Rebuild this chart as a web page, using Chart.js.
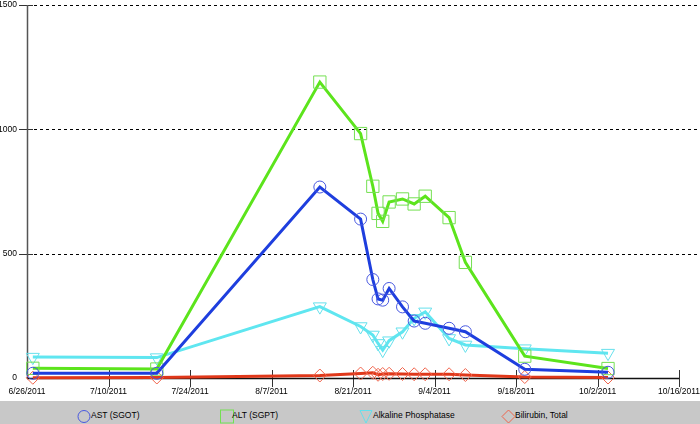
<!DOCTYPE html>
<html><head><meta charset="utf-8">
<script src="https://cdn.jsdelivr.net/npm/chart.js@4"></script>
<style>
html,body{margin:0;padding:0;background:#fff;}
#wrap{position:relative;width:700px;height:424px;overflow:hidden;}
#c{position:absolute;left:0;top:0;}
#legend{position:absolute;left:0;top:401px;width:700px;height:23px;background:#c8c8c8;font-family:"Liberation Sans",Arial,sans-serif;font-size:8.5px;color:#000;}
#legend svg{position:absolute;left:0;top:0;}
.lt{position:absolute;top:9px;height:11px;line-height:11px;white-space:nowrap;}
</style></head>
<body><div id="wrap"><canvas id="c" width="700" height="401"></canvas>
<div id="legend"><svg width="700" height="23" id="lsvg"></svg></div></div>
<script>
// days after 6/26/2011 of each lab draw
const sampleDays = [1.0, 22.3, 50.3, 57.3, 59.4, 60.3, 61.1, 62.2, 64.5, 66.5, 68.4, 72.5, 75.3, 85.5, 99.8];
const astValues  = [19, 19, 768, 639, 396, 318, 313, 360, 286, 229, 220, 200, 186, 35, 23];
const altValues  = [39, 36, 1190, 983, 771, 662, 630, 708, 720, 700, 731, 645, 465, 88, 38];
const alkValues  = [84, 82, 287, 207, 173, 139, 112, 150, 186, 240, 266, 159, 133, 118, 100];
const biliValues = [1, 2, 10, 18, 21, 13, 16, 17, 16, 15, 15, 15, 12, 4, 2];
const seriesNames = ['AST (SGOT)', 'ALT (SGPT)', 'Alkaline Phosphatase', 'Bilirubin, Total'];
const xTickDays = [0, 14, 28, 42, 56, 70, 84, 98, 112];
const xTickLabels = ['6/26/2011','7/10/2011','7/24/2011','8/7/2011','8/21/2011','9/4/2011','9/18/2011','10/2/2011','10/16/2011'];
const yTickValues = [0, 500, 1000, 1500];
const yTickLabels = ['0', '500', '1000', '1500'];

const FONT = '"Liberation Sans", Arial, sans-serif';
const lineCols = ['#1e3ede', '#5ce41c', '#5fe6f0', '#e0381a'];
const markCols = ['#4858e0', '#74e052', '#66e0ec', '#f0644c'];
const styles = ['circle', 'rect', 'triangle', 'rectRot'];
const radii = [6, 8.7, 7.5, 6.5];
const rots = [0, 0, 180, 0];
const vals = [astValues, altValues, alkValues, biliValues];

const datasets = vals.map((arr, k) => ({
  label: seriesNames[k],
  data: arr.map((v, i) => ({x: sampleDays[i], y: v})),
  borderColor: lineCols[k],
  borderWidth: 3,
  pointStyle: styles[k],
  pointRadius: radii[k],
  pointRotation: rots[k],
  pointBorderColor: markCols[k],
  pointBackgroundColor: 'rgba(0,0,0,0)',
  pointBorderWidth: 1,
  tension: 0,
  fill: false,
  clip: false
}));

const axesPlugin = {
  id: 'axesPlugin',
  beforeDatasetsDraw(chart) {
    const ctx = chart.ctx, xs = chart.scales.x, ys = chart.scales.y;
    const left = xs.getPixelForValue(0), right = xs.getPixelForValue(112);
    const y0 = Math.round(ys.getPixelForValue(0));
    ctx.save();
    // dashed gridlines
    ctx.strokeStyle = '#000'; ctx.lineWidth = 1; ctx.setLineDash([3, 3]);
    yTickValues.forEach(v => {
      if (v === 0) return;
      const y = Math.round(ys.getPixelForValue(v)) + 0.5;
      ctx.beginPath(); ctx.moveTo(left + 7, y); ctx.lineTo(698, y); ctx.stroke();
    });
    ctx.setLineDash([]);
    // y ticks
    ctx.strokeStyle = '#333'; ctx.lineWidth = 1;
    yTickValues.forEach(v => {
      if (v === 0) return;
      const y = Math.round(ys.getPixelForValue(v)) + 0.5;
      ctx.beginPath(); ctx.moveTo(left - 8, y); ctx.lineTo(left + 6, y); ctx.stroke();
    });
    // x ticks
    xTickDays.forEach(d => {
      if (d === 0) return;
      const x = Math.round(xs.getPixelForValue(d)) + 0.5;
      ctx.beginPath(); ctx.moveTo(x, y0 - 8); ctx.lineTo(x, y0 + 9); ctx.stroke();
    });
    // y axis
    ctx.strokeStyle = '#555'; ctx.lineWidth = 1.5;
    ctx.beginPath(); ctx.moveTo(Math.round(left) + 0.5, ys.getPixelForValue(1500)); ctx.lineTo(Math.round(left) + 0.5, y0 + 1); ctx.stroke();
    // x axis
    ctx.strokeStyle = '#111'; ctx.lineWidth = 1.5;
    ctx.beginPath(); ctx.moveTo(left, y0 + 0.5); ctx.lineTo(right, y0 + 0.5); ctx.stroke();
    ctx.restore();
  }
};

new Chart(document.getElementById('c'), {
  type: 'line',
  data: { datasets },
  plugins: [axesPlugin],
  options: {
    responsive: false,
    animation: false,
    devicePixelRatio: 1,
    layout: { autoPadding: false, padding: { top: 5, right: 20, left: 0, bottom: 0 } },
    plugins: { legend: { display: false }, tooltip: { enabled: false } },
    scales: {
      x: {
        type: 'linear', min: 0, max: 112,
        afterBuildTicks: s => { s.ticks = xTickDays.map(v => ({ value: v })); },
        afterFit: s => { s.height = 23; },
        ticks: { autoSkip: false, maxRotation: 0, padding: 0, color: '#000',
          font: { family: FONT, size: 8.5 },
          callback: (v, i) => xTickLabels[i] },
        grid: { display: true, drawOnChartArea: false, drawTicks: true, tickLength: 9, tickColor: 'rgba(0,0,0,0)', color: 'rgba(0,0,0,0)' },
        border: { display: false }
      },
      y: {
        min: 0, max: 1500,
        afterBuildTicks: s => { s.ticks = yTickValues.map(v => ({ value: v })); },
        afterFit: s => { s.width = 27; },
        ticks: { padding: 0, color: '#000', font: { family: FONT, size: 8.5, lineHeight: 0.1 },
          callback: (v, i) => yTickLabels[i] },
        grid: { display: true, drawOnChartArea: false, drawTicks: true, tickLength: 10, tickColor: 'rgba(0,0,0,0)', color: 'rgba(0,0,0,0)' },
        border: { display: false }
      }
    }
  }
});

// legend
const lsvg = document.getElementById('lsvg');
const ns = 'http://www.w3.org/2000/svg';
const legendItems = [
  { text: seriesNames[0], tx: 91 },
  { text: seriesNames[1], tx: 232 },
  { text: seriesNames[2], tx: 373 },
  { text: seriesNames[3], tx: 515 }
];
function add(tag, attrs) { const e = document.createElementNS(ns, tag); for (const k in attrs) e.setAttribute(k, attrs[k]); lsvg.appendChild(e); }
add('circle', { cx: 84, cy: 15.5, r: 6, fill: 'none', stroke: markCols[0], 'stroke-width': 1 });
add('rect', { x: 220.5, y: 9, width: 13, height: 13, fill: 'none', stroke: markCols[1], 'stroke-width': 1 });
add('polygon', { points: '360,9.5 372,9.5 366,22', fill: 'none', stroke: markCols[2], 'stroke-width': 1 });
add('polygon', { points: '508.5,9 515,15.5 508.5,22 502,15.5', fill: 'none', stroke: markCols[3], 'stroke-width': 1 });
const leg = document.getElementById('legend');
legendItems.forEach(it => {
  const s = document.createElement('span'); s.className = 'lt'; s.style.left = it.tx + 'px'; s.textContent = it.text; leg.appendChild(s);
});
</script>
</body></html>
